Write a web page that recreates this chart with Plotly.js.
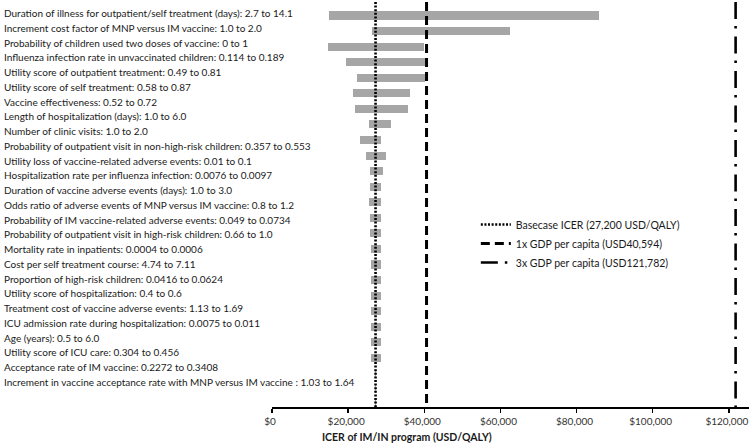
<!DOCTYPE html>
<html>
<head>
<meta charset="utf-8">
<script src="https://cdn.plot.ly/plotly-3.0.1.min.js"></script>
<style>html,body{margin:0;padding:0;background:#fff;}#chart{width:749px;height:446px;}</style>
</head>
<body>
<div id="chart"></div>
<script>
// ---- data ----
const rowLabels = [
  "Duration of illness for outpatient/self treatment (days): 2.7 to 14.1",
  "Increment cost factor of MNP versus IM vaccine: 1.0 to 2.0",
  "Probability of children used two doses of vaccine: 0 to 1",
  "Influenza infection rate in unvaccinated children: 0.114 to 0.189",
  "Utility score of outpatient treatment: 0.49 to 0.81",
  "Utility score of self treatment: 0.58 to 0.87",
  "Vaccine effectiveness: 0.52 to 0.72",
  "Length of hospitalization (days): 1.0 to 6.0",
  "Number of clinic visits: 1.0 to 2.0",
  "Probability of outpatient visit in non-high-risk children: 0.357 to 0.553",
  "Utility loss of vaccine-related adverse events: 0.01 to 0.1",
  "Hospitalization rate per influenza infection: 0.0076 to 0.0097",
  "Duration of vaccine adverse events (days): 1.0 to 3.0",
  "Odds ratio of adverse events of MNP versus IM vaccine: 0.8 to 1.2",
  "Probability of IM vaccine-related adverse events: 0.049 to 0.0734",
  "Probability of outpatient visit in high-risk children: 0.66 to 1.0",
  "Mortality rate in inpatients: 0.0004 to 0.0006",
  "Cost per self treatment course: 4.74 to 7.11",
  "Proportion of high-risk children: 0.0416 to 0.0624",
  "Utility score of hospitalization: 0.4 to 0.6",
  "Treatment cost of vaccine adverse events: 1.13 to 1.69",
  "ICU admission rate during hospitalization: 0.0075 to 0.011",
  "Age (years): 0.5 to 6.0",
  "Utility score of ICU care: 0.304 to 0.456",
  "Acceptance rate of IM vaccine: 0.2272 to 0.3408",
  "Increment in vaccine acceptance rate with MNP versus IM vaccine : 1.03 to 1.64"
];
// ICER (USD/QALY) at the two ends of each parameter range
const icerLow  = [15000, 26200, 14700, 19400, 22400, 21200, 21800, 25400, 23000, 24600, 25700, 25700, 25500,
                  25850, 25850, 25950, 25950, 26100, 26100, 26100, 26100, 26100, 26100, 27050, 27100, 27150];
const icerHigh = [86000, 62500, 39800, 40100, 40300, 36300, 35800, 31300, 28500, 30000, 29100, 28700, 28700,
                  28700, 28600, 28550, 28550, 28500, 28500, 28500, 28500, 28500, 28500, 27350, 27300, 27250];
const baseCaseICER = 27200;
const gdp1x = 40594;
const gdp3x = 121782;
const refNames = ["Basecase ICER (27,200 USD/QALY)", "1x GDP per capita (USD40,594)", "3x GDP per capita (USD121,782)"];
const tickVals = [0, 20000, 40000, 60000, 80000, 100000, 120000];
const tickText = ["$0", "$20,000", "$40,000", "$60,000", "$80,000", "$100,000", "$120,000"];
const xTitle = "ICER of IM/IN program (USD/QALY)";

// ---- layout constants ----
const FONT = "Lato, 'Open Sans', sans-serif";
const Y_TOP = -0.868, Y_BOT = 25.16;   // row units (row 0 at top)
const idx = rowLabels.map((_, i) => i);

const bars = {
  type: "bar", orientation: "h",
  y: idx,
  base: icerLow,
  x: icerLow.map((v, i) => icerHigh[i] - v),
  width: 0.52,
  marker: { color: "#a6a6a6", line: { width: 0 } },
  showlegend: false, hoverinfo: "skip"
};
function vline(xv, name, dash, w) {
  return {
    type: "scatter", mode: "lines", name: name,
    x: [xv, xv], y: [Y_TOP, Y_BOT],
    line: { color: "#000000", width: w, dash: dash },
    hoverinfo: "skip"
  };
}
const traces = [
  bars,
  vline(baseCaseICER, refNames[0], "2px,1.6px", 2.6),
  vline(gdp1x, refNames[1], "9px,5px", 3),
  vline(gdp3x, refNames[2], "17px,7px,2.5px,8px", 2.6)
];

const plotLeft = 272.3, plotW = 749 - plotLeft;
const labelAnn = rowLabels.map((t, i) => ({
  text: t, xref: "paper", yref: "y",
  x: (2 - plotLeft) / plotW, xanchor: "left",
  y: -0.161 + 0.9486 * i, yanchor: "middle",
  showarrow: false, font: { family: FONT, size: 10, color: "#1a1a1a" }
}));
labelAnn.push({
  text: "<b>" + xTitle + "</b>", xref: "paper", yref: "paper",
  x: (407 - plotLeft) / plotW, xanchor: "center",
  y: -(437 - 407) / 405, yanchor: "middle",
  showarrow: false, font: { family: FONT, size: 10.5, color: "#1a1a1a" }
});

const layout = {
  width: 749, height: 446,
  margin: { l: plotLeft, r: 0, t: 2, b: 39, pad: 0 },
  paper_bgcolor: "#ffffff", plot_bgcolor: "#ffffff",
  bargap: 0,
  xaxis: {
    range: [0, 125300], showgrid: false, zeroline: false,
    showline: true, linecolor: "#000000", linewidth: 1.5,
    ticks: "outside", ticklen: 4, tickwidth: 1.5, tickcolor: "#000000",
    tickvals: tickVals, ticktext: tickText, ticklabeloverflow: "allow",
    ticklabelshift: -2,
    tickfont: { family: FONT, size: 10, color: "#333333" }
  },
  yaxis: {
    range: [Y_BOT, Y_TOP], showgrid: false, zeroline: false,
    showline: false, showticklabels: false, ticks: ""
  },
  showlegend: true,
  legend: {
    x: (476 - plotLeft) / plotW, xanchor: "left",
    y: 1 - (210 - 2) / 405, yanchor: "top",
    bgcolor: "rgba(0,0,0,0)", borderwidth: 0,
    font: { family: FONT, size: 10.5, color: "#1a1a1a" },
    tracegroupgap: 0
  },
  annotations: labelAnn
};

Plotly.newPlot("chart", traces, layout, { staticPlot: true, displayModeBar: false });
</script>
</body>
</html>
